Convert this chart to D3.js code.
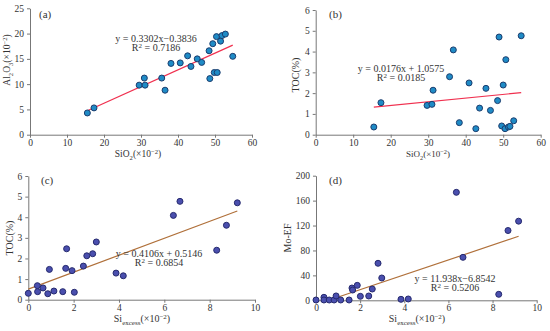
<!DOCTYPE html>
<html>
<head>
<meta charset="utf-8">
<script src="https://cdn.jsdelivr.net/npm/d3@7"></script>
<style>
  body { margin: 0; background: #fff; }
  svg text { font-family: "Liberation Serif", "Times New Roman", serif; fill: #333; }
</style>
</head>
<body>
<svg width="550" height="331"></svg>
<script>
// (a) SiO2 vs Al2O3
const sio2A = [15.5, 17.3, 29.5, 30.9, 31.1, 35.6, 36.5, 38.1, 40.6, 42.6, 43.5, 45.2, 46.4, 48.4, 48.6, 49.4, 49.8, 50.4, 50.6, 51.5, 51.9, 52.8, 54.8];
const al2o3 = [4.3, 5.3, 9.8, 11.2, 9.8, 11.2, 8.8, 14.1, 14.2, 15.6, 13.5, 15.0, 14.3, 16.6, 11.1, 18.0, 12.3, 19.4, 12.3, 18.5, 19.6, 19.9, 15.5];
// (b) SiO2 vs TOC
const sio2B = [15.5, 17.4, 29.7, 31.0, 31.3, 35.7, 36.7, 38.3, 40.9, 42.7, 43.7, 45.4, 46.6, 48.5, 48.9, 49.6, 50.0, 50.5, 50.7, 51.4, 51.8, 52.8, 54.8];
const tocB = [0.37, 1.54, 1.41, 1.46, 2.14, 2.79, 4.08, 0.58, 2.49, 0.29, 1.28, 2.23, 1.17, 1.64, 4.70, 0.42, 2.39, 0.29, 3.61, 0.37, 0.40, 0.67, 4.76];
// (c) Si excess vs TOC
const siExC = [0.0, 0.40, 0.41, 0.65, 0.86, 0.93, 1.13, 1.52, 1.65, 1.69, 1.93, 2.03, 2.43, 2.58, 2.84, 3.0, 3.87, 4.19, 6.40, 6.69, 8.31, 8.74, 9.22];
const tocC = [0.31, 0.68, 0.39, 0.57, 0.29, 1.47, 0.42, 0.39, 1.52, 2.47, 1.41, 0.36, 1.63, 2.13, 2.23, 2.80, 1.29, 1.16, 4.09, 4.77, 2.40, 3.61, 4.70];
// (d) Si excess vs Mo-EF
const siExD = [0.0, 0.36, 0.36, 0.60, 0.82, 0.91, 1.12, 1.50, 1.63, 1.66, 1.87, 2.01, 2.39, 2.55, 2.81, 2.98, 3.85, 4.18, 6.36, 6.66, 8.28, 8.70, 9.18];
const moEF = [0.5, 4.8, 0.5, 0.5, 0.5, 7, 0.5, 0.5, 19.7, 16.5, 24, 6.4, 6.9, 18.1, 59.4, 35.8, 1.6, 2.1, 173.3, 69, 9.6, 112, 127];

const svg = d3.select("svg");

const panels = [
  {
    label: "(a)", xs: sio2A, ys: al2o3, xDomain: [0, 60], yDomain: [0, 25],
    xTicks: [0, 10, 20, 30, 40, 50, 60], yTicks: [0, 5, 10, 15, 20, 25],
    box: [30, 252, 8.3, 134.7], slope: 0.3302, icpt: -0.3836,
    eq: "y = 0.3302x\u22120.3836", r2: "0.7186", eqPos: [156, 42],
    xTitle: [["SiO", 0], ["2", 1], ["(\u00d710", 0], ["\u22122", 2], [")", 0]], xTitlePos: [138, 157], xSize: 9.5,
    yTitle: [["Al", 0], ["2", 1], ["O", 0], ["3", 1], ["(\u00d710", 0], ["\u22122", 2], [")", 0]], yTitlePos: [10, 60], ySize: 9.5,
    labelPos: [39, 18], fill: "#1f8bc6", stroke: "#1b3d6e", line: "#f0304f", lineX: [15.5, 54.8]
  },
  {
    label: "(b)", xs: sio2B, ys: tocB, xDomain: [0, 60], yDomain: [0, 6],
    xTicks: [0, 10, 20, 30, 40, 50, 60], yTicks: [0, 1, 2, 3, 4, 5, 6],
    box: [315.7, 540.7, 10, 134.7], slope: 0.0176, icpt: 1.0575,
    eq: "y = 0.0176x + 1.0575", r2: "0.0185", eqPos: [401, 72],
    xTitle: [["SiO", 0], ["2", 1], ["(\u00d710", 0], ["\u22122", 2], [")", 0]], xTitlePos: [428, 157], xSize: 9,
    yTitle: [["TOC(%)", 0]], yTitlePos: [299, 75], ySize: 10,
    labelPos: [329, 18], fill: "#1f8bc6", stroke: "#1b3d6e", line: "#f0304f", lineX: [15.5, 54.8]
  },
  {
    label: "(c)", xs: siExC, ys: tocC, xDomain: [0, 10], yDomain: [0, 6],
    xTicks: [0, 2, 4, 6, 8, 10], yTicks: [0, 1, 2, 3, 4, 5, 6],
    box: [28.3, 255, 176, 299.7], slope: 0.4106, icpt: 0.5146,
    eq: "y = 0.4106x + 0.5146", r2: "0.6854", eqPos: [159, 257],
    xTitle: [["Si", 0], ["excess", 1], ["(\u00d710", 0], ["\u22122", 2], [")", 0]], xTitlePos: [142, 322], xSize: 10,
    yTitle: [["TOC(%)", 0]], yTitlePos: [13, 238], ySize: 10,
    labelPos: [41, 184], fill: "#4a4fae", stroke: "#262a6e", line: "#b0703a", lineX: [0, 9.22]
  },
  {
    label: "(d)", xs: siExD, ys: moEF, xDomain: [0, 10], yDomain: [0, 200],
    xTicks: [0, 2, 4, 6, 8, 10], yTicks: [0, 40, 80, 120, 160, 200],
    box: [316, 536.7, 175.7, 300.3], slope: 11.938, icpt: -6.8542,
    eq: "y = 11.938x\u22126.8542", r2: "0.5206", eqPos: [455, 282],
    xTitle: [["Si", 0], ["excess", 1], ["(\u00d710", 0], ["\u22122", 2], [")", 0]], xTitlePos: [417, 322], xSize: 10,
    yTitle: [["Mo-EF", 0]], yTitlePos: [291, 238], ySize: 10,
    labelPos: [329, 184], fill: "#4a4fae", stroke: "#262a6e", line: "#b0703a", lineX: [0.574, 9.18]
  }
];

function richText(sel, parts, size) {
  parts.forEach(([t, kind], i) => {
    const prev = i > 0 ? parts[i - 1][1] : 0;
    let dy = 0;
    if (kind === 1) dy = size * 0.3;
    if (kind === 2) dy = -size * 0.35;
    if (prev === 1) dy -= size * 0.3;
    if (prev === 2) dy += size * 0.35;
    sel.append("tspan")
      .attr("dy", dy)
      .attr("font-size", kind ? size * 0.7 : size)
      .text(t);
  });
}

panels.forEach(p => {
  const [x0, x1, y0, y1] = p.box;
  const x = d3.scaleLinear().domain(p.xDomain).range([x0, x1]);
  const y = d3.scaleLinear().domain(p.yDomain).range([y1, y0]);
  const g = svg.append("g");

  const xAxis = g.append("g")
    .attr("transform", `translate(0,${y1})`)
    .call(d3.axisBottom(x).tickValues(p.xTicks).tickFormat(d3.format("d"))
      .tickSize(3).tickPadding(2).tickSizeOuter(0));
  const yAxis = g.append("g")
    .attr("transform", `translate(${x0},0)`)
    .call(d3.axisLeft(y).tickValues(p.yTicks).tickFormat(d3.format("d"))
      .tickSize(3).tickPadding(3).tickSizeOuter(0));
  [xAxis, yAxis].forEach(a => {
    a.attr("font-family", null).attr("font-size", null);
    a.select(".domain").attr("stroke", "#777");
    a.selectAll(".tick line").attr("stroke", "#777");
    a.selectAll(".tick text")
      .attr("font-size", 9.5)
      .attr("fill", "#333");
  });
  xAxis.selectAll(".tick text").attr("dy", "0.62em");

  // trend line
  g.append("line")
    .attr("x1", x(p.lineX[0])).attr("y1", y(p.slope * p.lineX[0] + p.icpt))
    .attr("x2", x(p.lineX[1])).attr("y2", y(p.slope * p.lineX[1] + p.icpt))
    .attr("stroke", p.line).attr("stroke-width", 1.2);

  g.selectAll("circle")
    .data(p.xs.map((v, i) => [v, p.ys[i]]))
    .enter()
    .append("circle")
    .attr("cx", d => x(d[0]))
    .attr("cy", d => y(d[1]))
    .attr("r", 3)
    .attr("fill", p.fill)
    .attr("stroke", p.stroke)
    .attr("stroke-width", 1);

  g.append("text")
    .attr("x", p.labelPos[0]).attr("y", p.labelPos[1])
    .attr("font-size", 11)
    .text(p.label);

  g.append("text")
    .attr("x", p.eqPos[0]).attr("y", p.eqPos[1])
    .attr("text-anchor", "middle").attr("font-size", 10)
    .text(p.eq);
  const r = g.append("text")
    .attr("x", p.eqPos[0]).attr("y", p.eqPos[1] + 9)
    .attr("text-anchor", "middle").attr("font-size", 10);
  richText(r, [["R", 0], ["2", 2], [" = " + p.r2, 0]], 10);

  const xt = g.append("text")
    .attr("x", p.xTitlePos[0]).attr("y", p.xTitlePos[1])
    .attr("text-anchor", "middle");
  richText(xt, p.xTitle, p.xSize);

  const yt = g.append("text")
    .attr("transform", `translate(${p.yTitlePos[0]},${p.yTitlePos[1]}) rotate(-90)`)
    .attr("text-anchor", "middle");
  richText(yt, p.yTitle, p.ySize);
});
</script>
</body>
</html>
